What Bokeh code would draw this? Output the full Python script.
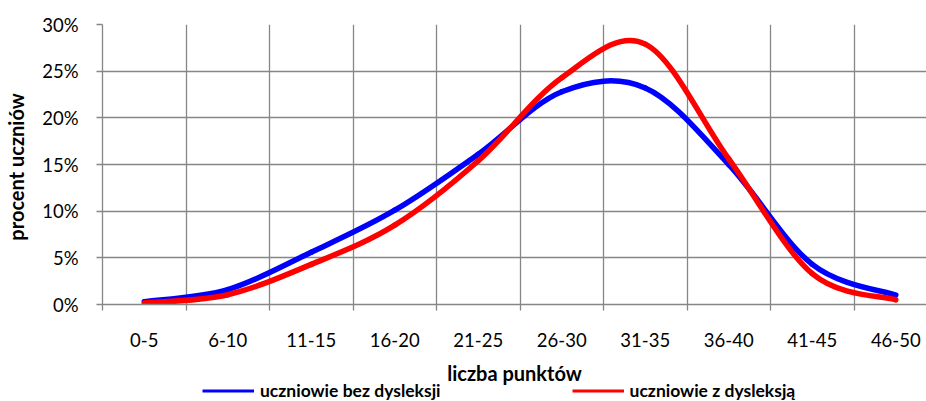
from bokeh.plotting import figure
from bokeh.layouts import column
from bokeh.models import (Range1d, FixedTicker, NumeralTickFormatter, Legend, LegendItem,
                          ColumnDataSource)
from bokeh.embed import file_html
from bokeh.resources import INLINE

categories = ["0-5", "6-10", "11-15", "16-20", "21-25", "26-30", "31-35", "36-40", "41-45", "46-50"]
bez_dysleksji = [0.30, 1.60, 5.60, 10.10, 16.10, 22.80, 23.20, 15.00, 4.30, 1.00]   # %
z_dysleksja = [0.15, 1.05, 4.30, 8.50, 15.40, 24.30, 27.90, 15.60, 3.30, 0.50]      # %
y_ticks = [0.0, 0.05, 0.10, 0.15, 0.20, 0.25, 0.30]
series_names = ["uczniowie bez dysleksji", "uczniowie z dysleksją"]

FONT = "Lato"
GRAY = "#868686"
COLORS = ["#0000FF", "#FF0000"]

centers = [i + 0.5 for i in range(len(categories))]
bounds = list(range(len(categories) + 1))


def smooth_segments(xs, ys):
    """Catmull-Rom style cubic Bezier segments through the data points."""
    n = len(xs)
    d = dict(x0=[], y0=[], x1=[], y1=[], cx0=[], cy0=[], cx1=[], cy1=[])
    for i in range(n - 1):
        xm, ym = (xs[i - 1], ys[i - 1]) if i > 0 else (xs[i], ys[i])
        xp, yp = (xs[i + 2], ys[i + 2]) if i + 2 < n else (xs[i + 1], ys[i + 1])
        d["x0"].append(xs[i]); d["y0"].append(ys[i])
        d["x1"].append(xs[i + 1]); d["y1"].append(ys[i + 1])
        d["cx0"].append(xs[i] + (xs[i + 1] - xm) / 6.0)
        d["cy0"].append(ys[i] + (ys[i + 1] - ym) / 6.0)
        d["cx1"].append(xs[i + 1] - (xp - xs[i]) / 6.0)
        d["cy1"].append(ys[i + 1] - (yp - ys[i]) / 6.0)
    return ColumnDataSource(d)


p = figure(width=926, height=387, output_backend="svg", toolbar_location=None,
           x_range=Range1d(0, 9.868), y_range=Range1d(0, 0.30),
           min_border_left=102, min_border_right=0, min_border_top=24, min_border_bottom=83)
p.outline_line_color = None

# grids
p.xgrid.ticker = FixedTicker(ticks=bounds[1:])
p.xgrid.grid_line_color = GRAY
p.xgrid.grid_line_width = 1.3
p.ygrid.ticker = FixedTicker(ticks=y_ticks[1:])
p.ygrid.grid_line_color = GRAY
p.ygrid.grid_line_width = 1.3

# x axis
xa = p.xaxis[0]
xa.ticker = FixedTicker(ticks=centers, minor_ticks=bounds)
xa.major_label_overrides = {c: lab for c, lab in zip(centers, categories)}
xa.major_tick_out = 0
xa.major_tick_in = 0
xa.minor_tick_out = 6
xa.minor_tick_in = 0
xa.minor_tick_line_color = GRAY
xa.minor_tick_line_width = 1.3
xa.axis_line_color = GRAY
xa.axis_line_width = 1.3
xa.major_label_text_font = FONT
xa.major_label_text_font_size = "18.5px"
xa.major_label_text_color = "black"
xa.major_label_standoff = 22
xa.axis_label = "liczba punktów"
xa.axis_label_text_font = FONT
xa.axis_label_text_font_size = "20px"
xa.axis_label_text_font_style = "bold"
xa.axis_label_text_color = "black"
xa.axis_label_standoff = 11

# y axis
ya = p.yaxis[0]
ya.ticker = FixedTicker(ticks=y_ticks)
ya.formatter = NumeralTickFormatter(format="0%")
ya.major_tick_out = 6
ya.major_tick_in = 0
ya.minor_tick_line_color = None
ya.major_tick_line_color = GRAY
ya.major_tick_line_width = 1.3
ya.axis_line_color = GRAY
ya.axis_line_width = 1.3
ya.major_label_text_font = FONT
ya.major_label_text_font_size = "18.5px"
ya.major_label_text_color = "black"
ya.major_label_standoff = 18
ya.axis_label = "procent  uczniów"
ya.axis_label_text_font = FONT
ya.axis_label_text_font_size = "20px"
ya.axis_label_text_font_style = "bold"
ya.axis_label_text_color = "black"
ya.axis_label_standoff = 11

# smooth lines
for vals, col in zip([bez_dysleksji, z_dysleksja], COLORS):
    ys = [v / 100.0 for v in vals]
    src = smooth_segments(centers, ys)
    p.bezier(x0="x0", y0="y0", x1="x1", y1="y1", cx0="cx0", cy0="cy0", cx1="cx1", cy1="cy1",
             source=src, line_color=col, line_width=5.5, line_cap="round")

# legend strip below the chart (transparent, slightly overlapping the axis-title area)
lg = figure(width=926, height=24, output_backend="svg", toolbar_location=None,
            x_range=Range1d(0, 1), y_range=Range1d(0, 1),
            x_axis_type=None, y_axis_type=None, min_border=0,
            margin=(-10, 0, 0, 0))
lg.outline_line_color = None
lg.background_fill_alpha = 0
lg.border_fill_alpha = 0
legend_items = []
for col, name in zip(COLORS, series_names):
    lr = lg.line(x=[float("nan")], y=[float("nan")], line_color=col, line_width=3)
    legend_items.append(LegendItem(label=name, renderers=[lr]))

legend = Legend(items=legend_items, orientation="horizontal", location=(100, 0),
                glyph_width=52, glyph_height=21, label_standoff=6, spacing=131,
                padding=0, margin=0, border_line_color=None, background_fill_alpha=0,
                label_text_font=FONT, label_text_font_size="17.5px",
                label_text_font_style="bold", label_text_color="black",
                label_height=21)
lg.add_layout(legend, "center")

layout = column(p, lg, spacing=0)
open("out.html", "w").write(file_html(layout, INLINE))
